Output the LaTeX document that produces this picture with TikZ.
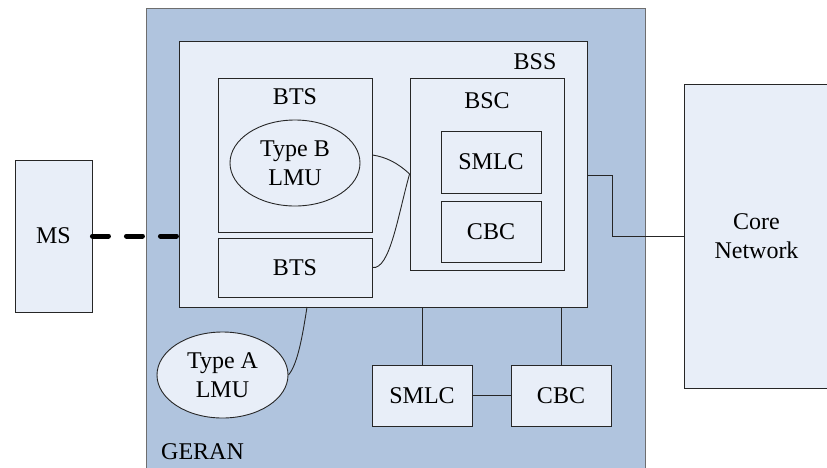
\documentclass[tikz,border=0pt]{standalone}
\usepackage{fontspec}
\setmainfont{Liberation Serif}
\newfontfamily\tms{Liberation Serif}
\usetikzlibrary{shapes.geometric}
\definecolor{geranfill}{RGB}{176,196,222}
\definecolor{boxfill}{RGB}{232,238,248}
\definecolor{geranline}{RGB}{110,110,110}
\tikzset{
  box/.style={draw=black!85, fill=boxfill, line width=0.9pt, inner sep=0pt, align=center},
  oval/.style={ellipse, draw=black!85, fill=boxfill, line width=0.9pt, inner sep=0pt, align=center},
  txt/.style={inner sep=0pt, align=center},
  conn/.style={draw=black!85, line width=0.9pt},
}
\begin{document}
\begin{tikzpicture}[x=1pt,y=-1pt,font=\tms\fontsize{24}{29}\selectfont]
\useasboundingbox (0,0) rectangle (827,467);
% GERAN
\node[box, draw=geranline, fill=geranfill, minimum width=499, minimum height=470] (geran) at (395.5,243) {};
\node[txt, anchor=west] (gerant) at (161,452) {GERAN};
% BSS
\node[box, minimum width=408, minimum height=266] (bss) at (383,174) {};
\node[txt] (bsst) at (535,62) {BSS};
% BTS top
\node[box, minimum width=154, minimum height=154] (btsa) at (295,155) {};
\node[txt] (btsat) at (295,97) {BTS};
\node[oval, minimum width=130, minimum height=86] (lmub) at (295,163) {Type B\\LMU};
% BTS bottom
\node[box, minimum width=154, minimum height=59] (btsb) at (295,267.5) {BTS};
% BSC
\node[box, minimum width=154, minimum height=192] (bsc) at (487,174) {};
\node[txt] (bsct) at (487,101) {BSC};
\node[box, minimum width=100, minimum height=62] (smlci) at (491,162) {SMLC};
\node[box, minimum width=100, minimum height=61] (cbci) at (491,231.5) {CBC};
% MS
\node[box, minimum width=77, minimum height=152] (ms) at (53.5,236) {MS};
% Core network
\node[box, minimum width=145, minimum height=304] (core) at (756.5,236) {Core\\Network};
% Type A LMU
\node[oval, minimum width=131, minimum height=86] (lmua) at (222.5,375) {Type A\\LMU};
% SMLC / CBC bottom
\node[box, minimum width=100, minimum height=61] (smlc) at (422,395.5) {SMLC};
\node[box, minimum width=100, minimum height=61] (cbc) at (561,395.5) {CBC};
% connectors
\draw[line width=5pt, dash pattern=on 16pt off 18pt, line cap=round] (ms.east) -- (ms.east -| bss.west);
\draw[conn] (bss.east |- 0,175) -- (612,175) |- (core.west);
\draw[conn] (btsa.east) .. controls (386,157) and (398,163) .. (bsc.west);
\draw[conn] (btsb.east) .. controls (390,270) and (398,215) .. (bsc.west);
\draw[conn] (307,307) .. controls (302,340) and (297,365) .. (lmua.east);
\draw[conn] (smlc.north |- bss.south) -- (smlc.north);
\draw[conn] (cbc.north |- bss.south) -- (cbc.north);
\draw[conn] (smlc.east) -- (cbc.west);
\end{tikzpicture}
\end{document}
